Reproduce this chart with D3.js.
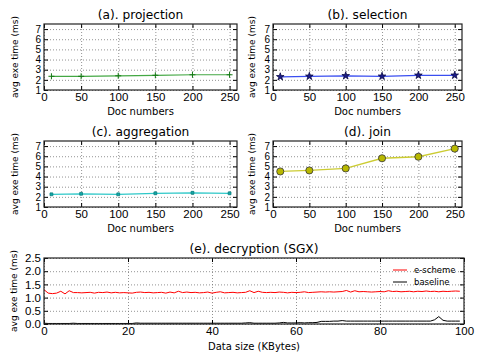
<!DOCTYPE html>
<html>
<head>
<meta charset="utf-8">
<script src="https://cdn.jsdelivr.net/npm/d3@7"></script>
<style>
  body { margin: 0; background: #fff; }
  svg { font-family: 'DejaVu Sans', sans-serif; }
  .grid line { stroke: #777; stroke-dasharray: 1,2; stroke-width: 0.8; }
  .grid path { display: none; }
  .axis path { display: none; }
  .axis line { stroke: #000; }
  .axis text { font-size: 11.5px; fill: #000; }
  .axis.tight text { font-size: 10px; }
</style>
</head>
<body>
<div id="chart"></div>
<script>
// doc-number experiments
const docNumbers = [10, 50, 100, 150, 200, 250];
const projection = [2.35, 2.35, 2.4, 2.45, 2.5, 2.5];
const selection = [2.3, 2.35, 2.4, 2.35, 2.45, 2.45];
const aggregation = [2.25, 2.3, 2.25, 2.35, 2.4, 2.35];
const join = [4.5, 4.6, 4.8, 5.8, 5.95, 6.75];
const docTicks = [0, 50, 100, 150, 200, 250];
const timeTicks = [1, 2, 3, 4, 5, 6, 7];

// decryption experiment, data size 0..99 KBytes
const eScheme = [
  1.30, 1.17, 1.15, 1.17, 1.24, 1.14, 1.26, 1.19, 1.19, 1.18,
  1.19, 1.20, 1.17, 1.20, 1.19, 1.21, 1.18, 1.20, 1.18, 1.19,
  1.18, 1.17, 1.20, 1.21, 1.19, 1.20, 1.18, 1.19, 1.20, 1.17,
  1.21, 1.18, 1.24, 1.19, 1.21, 1.19, 1.20, 1.18, 1.19, 1.21,
  1.17, 1.20, 1.22, 1.18, 1.19, 1.20, 1.18, 1.19, 1.20, 1.26,
  1.19, 1.24, 1.20, 1.19, 1.20, 1.19, 1.21, 1.20, 1.18, 1.20,
  1.19, 1.20, 1.22, 1.19, 1.20, 1.21, 1.22, 1.21, 1.22, 1.21,
  1.22, 1.23, 1.27, 1.21, 1.26, 1.22, 1.23, 1.22, 1.21, 1.22,
  1.23, 1.22, 1.26, 1.23, 1.24, 1.22, 1.23, 1.24, 1.22, 1.24,
  1.23, 1.25, 1.23, 1.24, 1.22, 1.24, 1.23, 1.24, 1.25, 1.24
];
const baseline = [
  0.03, 0.02, 0.02, 0.02, 0.02, 0.02, 0.02, 0.03, 0.02, 0.02,
  0.02, 0.02, 0.02, 0.02, 0.02, 0.02, 0.02, 0.02, 0.02, 0.02,
  0.02, 0.02, 0.04, 0.03, 0.03, 0.03, 0.03, 0.03, 0.03, 0.03,
  0.03, 0.03, 0.03, 0.03, 0.03, 0.03, 0.03, 0.03, 0.03, 0.03,
  0.03, 0.03, 0.03, 0.03, 0.03, 0.03, 0.03, 0.03, 0.04, 0.05,
  0.03, 0.03, 0.03, 0.03, 0.03, 0.03, 0.04, 0.06, 0.04, 0.04,
  0.04, 0.05, 0.04, 0.05, 0.05, 0.06, 0.10, 0.10, 0.10, 0.11,
  0.11, 0.13, 0.11, 0.11, 0.11, 0.11, 0.11, 0.11, 0.11, 0.11,
  0.11, 0.11, 0.11, 0.11, 0.11, 0.11, 0.11, 0.11, 0.11, 0.11,
  0.11, 0.11, 0.11, 0.16, 0.28, 0.14, 0.11, 0.11, 0.11, 0.11
];
const sizeTicks = [0, 20, 40, 60, 80, 100];
const decTicks = [0, 0.5, 1.0, 1.5, 2.0, 2.5];

const svg = d3.select('#chart').append('svg')
  .attr('width', 485)
  .attr('height', 363);

const drawPanel = (cfg) => {
  const { box, xDomain, yDomain, xTicks, yTicks, yFmt } = cfg;
  const w = box.right - box.left, h = box.bottom - box.top;
  const x = d3.scaleLinear().domain(xDomain).range([0, w]);
  const y = d3.scaleLinear().domain(yDomain).range([h, 0]);
  const g = svg.append('g').attr('transform', `translate(${box.left},${box.top})`);

  g.append('g').attr('class', 'grid')
    .attr('transform', `translate(0,${h})`)
    .call(d3.axisBottom(x).tickValues(xTicks).tickSize(-h).tickFormat(''));
  g.append('g').attr('class', 'grid')
    .call(d3.axisLeft(y).tickValues(yTicks).tickSize(-w).tickFormat(''));

  // ticks point inward on every side
  g.append('g').attr('class', 'axis')
    .attr('transform', `translate(0,${h})`)
    .call(d3.axisBottom(x).tickValues(xTicks).tickSizeInner(-4).tickSizeOuter(0).tickPadding(3));
  g.append('g').attr('class', 'axis')
    .call(d3.axisTop(x).tickValues(xTicks).tickSizeInner(-4).tickSizeOuter(0).tickFormat(''));
  g.append('g').attr('class', cfg.tightY ? 'axis tight' : 'axis')
    .call(d3.axisLeft(y).tickValues(yTicks).tickSizeInner(-4).tickSizeOuter(0).tickPadding(3).tickFormat(yFmt || d3.format('d')));
  g.append('g').attr('class', 'axis')
    .attr('transform', `translate(${w},0)`)
    .call(d3.axisRight(y).tickValues(yTicks).tickSizeInner(-4).tickSizeOuter(0).tickFormat(''));

  const clip = 'clip' + Math.round(box.left) + '_' + Math.round(box.top);
  g.append('clipPath').attr('id', clip).append('rect').attr('width', w).attr('height', h);
  const plot = g.append('g').attr('clip-path', `url(#${clip})`);

  cfg.series.forEach(s => {
    const pts = s.values.map((v, i) => [s.xs[i], v]);
    plot.append('path')
      .attr('fill', 'none')
      .attr('stroke', s.color)
      .attr('stroke-width', s.width || 1.2)
      .attr('d', d3.line().x(d => x(d[0])).y(d => y(d[1]))(pts));
    if (s.marker) {
      plot.selectAll(null).data(pts).enter().append('path')
        .attr('transform', d => `translate(${x(d[0])},${y(d[1])})`)
        .attr('d', s.marker)
        .attr('fill', s.markerFill || 'none')
        .attr('stroke', s.markerStroke)
        .attr('stroke-width', s.markerWidth || 0.8);
    }
  });

  g.append('rect')
    .attr('width', w).attr('height', h)
    .attr('fill', 'none').attr('stroke', '#222').attr('stroke-width', 1.2);

  g.append('text')
    .attr('x', w / 2).attr('y', -5)
    .attr('text-anchor', 'middle')
    .style('font-size', '12.2px')
    .text(cfg.title);
  g.append('text')
    .attr('x', w / 2).attr('y', h + cfg.xLabelDy)
    .attr('text-anchor', 'middle')
    .style('font-size', '10px')
    .text(cfg.xLabel);
  g.append('text')
    .attr('transform', `translate(${cfg.yLabelX - box.left},${h / 2}) rotate(-90)`)
    .attr('text-anchor', 'middle')
    .attr('dy', '0.35em')
    .style('font-size', '9px')
    .text('avg exe time (ms)');
  return { g, x, y, w, h };
};

const plus = 'M-3,0H3M0,-3V3';
const star = d3.symbol().type(d3.symbolStar).size(18)();
const square = d3.symbol().type(d3.symbolSquare).size(8)();
const circle = d3.symbol().type(d3.symbolCircle).size(40)();

const docPanel = (box, title, yLabelX, series) => drawPanel({
  box, title, xLabel: 'Doc numbers', xLabelDy: 25, yLabelX, tightY: true,
  xDomain: [0, 260], yDomain: [1, 7.5], xTicks: docTicks, yTicks: timeTicks,
  series: [Object.assign({ xs: docNumbers }, series)]
});

docPanel({ left: 44, right: 237, top: 24, bottom: 90 }, '(a). projection', 15,
  { values: projection, color: '#44a844', marker: plus, markerStroke: '#117711', markerWidth: 1 });
docPanel({ left: 273, right: 462, top: 24, bottom: 90 }, '(b). selection', 252,
  { values: selection, color: '#3a4ef0', marker: star, markerFill: '#1c1c8a', markerStroke: '#0a0a44' });
docPanel({ left: 44, right: 237, top: 141, bottom: 207 }, '(c). aggregation', 15,
  { values: aggregation, color: '#2ec8c8', marker: square, markerFill: '#12aaaa', markerStroke: '#0b7f7f' });
docPanel({ left: 273, right: 462, top: 141, bottom: 207 }, '(d). join', 252,
  { values: join, color: '#cccc33', width: 1.3, marker: circle, markerFill: '#b8b800', markerStroke: '#333' });

const sizes = eScheme.map((_, i) => i);
const dec = drawPanel({
  box: { left: 44, right: 464, top: 258, bottom: 324 },
  title: '(e). decryption (SGX)', xLabel: 'Data size (KBytes)', xLabelDy: 26, yLabelX: 14,
  xDomain: [0, 100], yDomain: [0, 2.5], xTicks: sizeTicks, yTicks: decTicks, yFmt: d3.format('.1f'),
  series: [
    { xs: sizes, values: eScheme, color: '#ff0000', width: 1 },
    { xs: sizes, values: baseline, color: '#000', width: 1 }
  ]
});

// legend, no frame
const legend = [{ name: 'e-scheme', color: '#ff0000' }, { name: 'baseline', color: '#000' }];
const lg = dec.g.append('g').attr('transform', `translate(${dec.w - 71},12)`);
legend.forEach((d, i) => {
  lg.append('line')
    .attr('x1', 0).attr('x2', 14).attr('y1', i * 12).attr('y2', i * 12)
    .attr('stroke', d.color).attr('stroke-width', 1);
  lg.append('text')
    .attr('x', 21).attr('y', i * 12).attr('dy', '0.35em')
    .style('font-size', '8.5px')
    .text(d.name);
});
</script>
</body>
</html>
